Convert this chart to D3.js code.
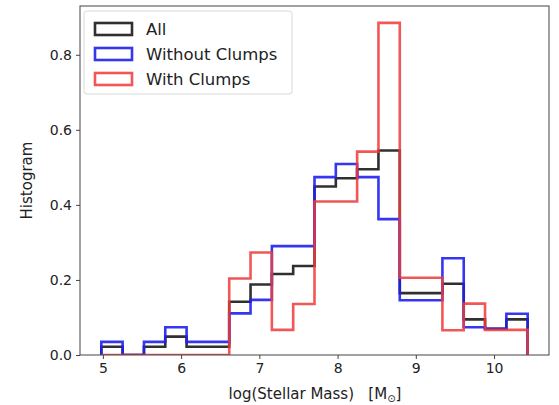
<!DOCTYPE html>
<html>
<head>
<meta charset="utf-8">
<script src="https://cdn.jsdelivr.net/npm/d3@7"></script>
<style>
  html, body { margin: 0; padding: 0; background: #fff; }
  svg { display: block; font-family: "DejaVu Sans", sans-serif; }
</style>
</head>
<body>
<svg id="chart" width="559" height="405"></svg>
<script>
// ---- data ----
const binEdges = [4.98, 5.2525, 5.525, 5.7975, 6.07, 6.3425, 6.615, 6.8875, 7.16, 7.4325,
                  7.705, 7.9775, 8.25, 8.5225, 8.795, 9.0675, 9.34, 9.6125, 9.885, 10.1575, 10.43];
const seriesNames = ["All", "Without Clumps", "With Clumps"];
const allValues = [0.022, 0, 0.022, 0.049, 0.022, 0.022, 0.142, 0.188, 0.216, 0.237,
                   0.449, 0.471, 0.495, 0.545, 0.165, 0.165, 0.19, 0.095, 0.07, 0.095];
const withoutClumpsValues = [0.035, 0, 0.035, 0.074, 0.035, 0.035, 0.111, 0.147, 0.29, 0.29,
                   0.474, 0.509, 0.474, 0.362, 0.146, 0.146, 0.258, 0.074, 0.07, 0.11];
const withClumpsValues = [0, 0, 0, 0, 0, 0, 0.204, 0.273, 0.067, 0.136,
                   0.409, 0.409, 0.542, 0.885, 0.206, 0.206, 0.066, 0.137, 0.067, 0.067];
const seriesColors = ["#1a1a1a", "#2020ee", "#f03a3a"];
const xTicks = [5, 6, 7, 8, 9, 10];
const yTicks = [0.0, 0.2, 0.4, 0.6, 0.8];

// ---- layout ----
const svg = d3.select("#chart");
const L = 80, R = 549, T = 6, B = 355;
const x = d3.scaleLinear().domain([4.7075, 10.7025]).range([L, R]);
const y = d3.scaleLinear().domain([0, 0.93]).range([B, T]);

svg.append("defs").append("clipPath").attr("id", "plotclip")
  .append("rect").attr("x", L).attr("y", T).attr("width", R - L).attr("height", B - T);

const series = [allValues, withoutClumpsValues, withClumpsValues];

const plot = svg.append("g").attr("clip-path", "url(#plotclip)");
const line = d3.line().x(d => x(d[0])).y(d => y(d[1]));
series.forEach((vals, si) => {
  const pts = [[binEdges[0], 0]];
  vals.forEach((v, i) => { pts.push([binEdges[i], v]); pts.push([binEdges[i + 1], v]); });
  pts.push([binEdges[binEdges.length - 1], 0]);
  plot.append("path")
    .attr("d", line(pts))
    .attr("fill", "none")
    .attr("stroke", seriesColors[si])
    .attr("stroke-opacity", si === 2 ? 0.85 : 0.9)
    .attr("stroke-width", 2.6)
    .attr("stroke-linejoin", "miter");
});

// axes
const xAxis = d3.axisBottom(x).tickValues(xTicks).tickFormat(d3.format("d")).tickSizeOuter(0).tickSize(4).tickPadding(4);
const yAxis = d3.axisLeft(y).tickValues(yTicks).tickFormat(d3.format(".1f")).tickSizeOuter(0).tickSize(4).tickPadding(4);
const gx = svg.append("g").attr("transform", `translate(0,${B})`).call(xAxis);
const gy = svg.append("g").attr("transform", `translate(${L},0)`).call(yAxis);
[gx, gy].forEach(g => {
  g.select(".domain").remove();
  g.selectAll("line").attr("stroke", "#444");
  g.selectAll("text").attr("font-size", 14).attr("fill", "#222").attr("font-family", "DejaVu Sans");
});

// frame
svg.append("rect").attr("x", L).attr("y", T).attr("width", R - L).attr("height", B - T)
  .attr("fill", "none").attr("stroke", "#444").attr("stroke-width", 1);

// labels
const xl = svg.append("text").attr("x", 315).attr("y", 399).attr("text-anchor", "middle")
  .attr("font-size", 15).attr("fill", "#222");
xl.append("tspan").text("log(Stellar Mass)\u00a0\u00a0\u00a0[M");
xl.append("tspan").attr("font-size", 10).attr("dy", 3).text("\u2299");
xl.append("tspan").attr("dy", -3).text("]");

svg.append("text").attr("transform", `translate(32,${(T + B) / 2}) rotate(-90)`)
  .attr("text-anchor", "middle").attr("font-size", 15).attr("fill", "#222").text("Histogram");

// legend
const lg = svg.append("g");
lg.append("rect").attr("x", 84).attr("y", 11).attr("width", 208).attr("height", 83)
  .attr("rx", 3).attr("fill", "#fff").attr("fill-opacity", 0.8).attr("stroke", "#d8d8d8");
seriesNames.forEach((name, i) => {
  const cy = 29 + i * 25;
  lg.append("rect").attr("x", 95).attr("y", cy - 6).attr("width", 37).attr("height", 12)
    .attr("fill", "#fff").attr("stroke", seriesColors[i]).attr("stroke-width", 2.6)
    .attr("stroke-opacity", i === 2 ? 0.85 : 0.9);
  lg.append("text").attr("x", 146).attr("y", cy + 5.5).attr("font-size", 16.5).attr("fill", "#222").text(name);
});
</script>
</body>
</html>
